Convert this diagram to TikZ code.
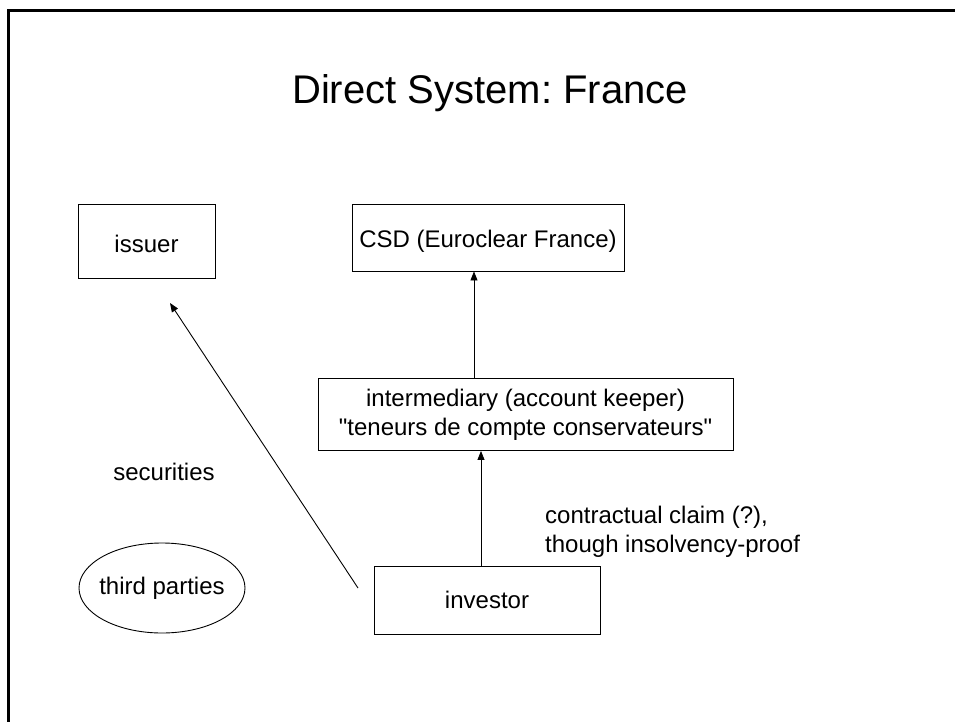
\documentclass[tikz,border=0pt]{standalone}
\usepackage{fontspec}
\setmainfont{Liberation Sans}[Ligatures=TeXOff]
\usetikzlibrary{arrows.meta,shapes.geometric}
\begin{document}
\frenchspacing
\begin{tikzpicture}[x=1pt,y=-1pt,
  body/.style={font=\fontsize{24}{29}\selectfont},
  box/.style={body,draw=black,line width=0.9pt,rectangle,inner sep=0pt,align=center},
  oval/.style={body,draw=black,line width=0.9pt,ellipse,inner sep=0pt},
  conn/.style={draw=black,line width=0.9pt,-{Triangle[length=9pt,width=7pt]}},
  lbl/.style={body,inner sep=0pt}]
\useasboundingbox (0,0) rectangle (955,722);
% page frame (left and top edges)
\draw[line width=2.6pt] (8.7,722) -- (8.7,10.7) -- (955,10.7);

% title
\node[font=\fontsize{40}{48}\selectfont,anchor=base,inner sep=0pt] (title) at (490,104) {Direct System: France};

% boxes
\node[box,minimum width=137pt,minimum height=74pt,text height=22pt,text depth=0pt] (issuer) at (146.5,241) {issuer};
\node[box,minimum width=272pt,minimum height=67pt,text height=20pt,text depth=0pt] (csd) at (488,237.5) {CSD (Euroclear France)};
\node[box,minimum width=415pt,minimum height=72pt] (inter) at (525.5,414.5)
  {intermediary (account keeper)\\"teneurs de compte conservateurs"};
\node[box,minimum width=226pt,minimum height=68pt] (investor) at (487,600) {investor};
\node[oval,minimum width=166pt,minimum height=90pt] (third) at (162,588) {\makebox[0pt]{third parties}};

% labels
\node[lbl] (sec) at (164,472) {securities};
\node[lbl,anchor=base west] (claim1) at (545,523) {contractual claim (?),};
\node[lbl,anchor=base west] (claim2) at (545,552) {though insolvency-proof};

% connectors
\coordinate (up) at (474,0);
\coordinate (lo) at (481,0);
\draw[conn] (inter.north -| up) -- (csd.south -| up);
\draw[conn] (investor.north -| lo) -- (inter.south -| lo);
\coordinate (secfrom) at (358,588);
\coordinate (secto) at (170,303);
\draw[conn] (secfrom) -- (secto);
\end{tikzpicture}
\end{document}
